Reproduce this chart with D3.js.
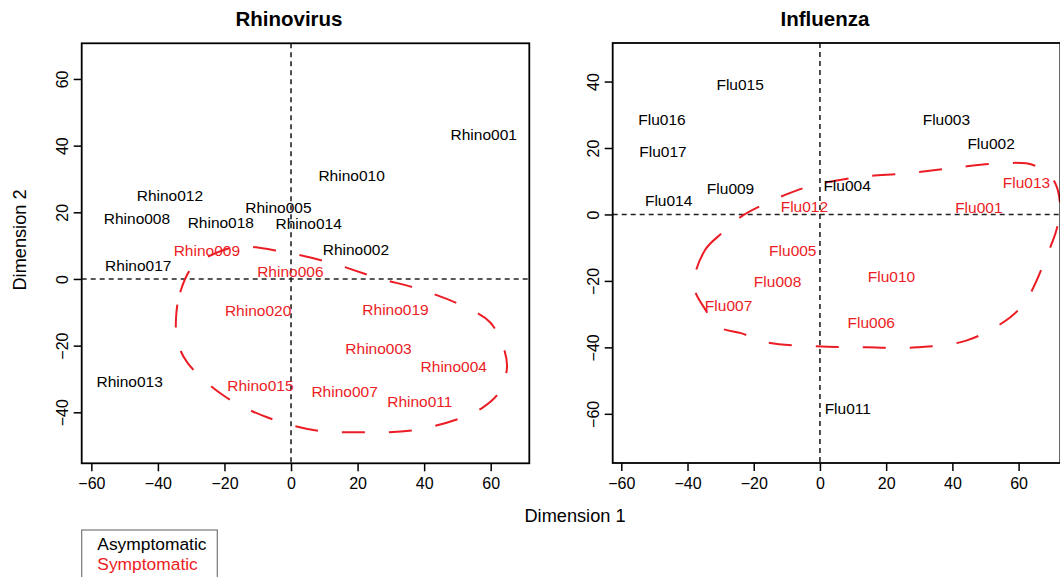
<!DOCTYPE html>
<html>
<head>
<meta charset="utf-8">
<script src="https://cdn.jsdelivr.net/npm/d3@7"></script>
<style>
  body { margin: 0; background: #fff; }
  svg { display: block; font-family: "Liberation Sans", Arial, sans-serif; }
</style>
</head>
<body>
<div id="chart"></div>
<script>
// ---- data ----
const rhinoNames = ["Rhino001","Rhino002","Rhino003","Rhino004","Rhino005","Rhino006","Rhino007","Rhino008","Rhino009","Rhino010",
                    "Rhino011","Rhino012","Rhino013","Rhino014","Rhino015","Rhino017","Rhino018","Rhino019","Rhino020"];
const rhinoDim1 = [57.9, 19.5, 26.3, 48.9, -3.8, -0.2, 16.1, -46.3, -25.3, 18.2,
                   38.7, -36.4, -48.5, 5.3, -9.2, -45.9, -21.1, 31.4, -9.9];
const rhinoDim2 = [43.3, 8.8, -20.7, -26.2, 21.5, 2.3, -33.7, 18.2, 8.7, 31.2,
                   -36.7, 25.0, -30.7, 16.6, -31.8, 4.0, 17.0, -9.2, -9.4];
const rhinoSymptomatic = [0, 0, 1, 1, 0, 1, 1, 0, 1, 0,
                          1, 0, 0, 0, 1, 0, 0, 1, 1];

const fluNames = ["Flu001","Flu002","Flu003","Flu004","Flu005","Flu006","Flu007","Flu008","Flu009",
                  "Flu010","Flu011","Flu012","Flu013","Flu014","Flu015","Flu016","Flu017"];
const fluDim1 = [48.0, 51.7, 38.2, 8.2, -8.2, 15.5, -27.6, -12.8, -27.0,
                 21.6, 8.4, -4.7, 62.4, -45.7, -24.1, -47.7, -47.4];
const fluDim2 = [2.0, 21.5, 28.6, 8.8, -10.8, -32.6, -27.3, -20.3, 7.8,
                 -18.6, -58.4, 2.5, 9.6, 4.1, 39.0, 28.5, 18.9];
const fluSymptomatic = [1, 0, 0, 0, 1, 1, 1, 1, 0,
                        1, 0, 1, 1, 0, 0, 0, 0];

// outline of the symptomatic group, in data units
const rhinoHull = [[-34.5,-10.9],[-33.3,-4.0],[-30.0,3.1],[-24.3,7.0],[-15.9,9.7],[-2.7,8.2],[11.7,4.9],[25.8,0.4],
                   [39.6,-3.4],[53.2,-8.8],[59.8,-13.0],[63.4,-19.3],[64.9,-26.5],[62.5,-34.0],[57.7,-38.5],
                   [50.8,-41.8],[36.6,-45.4],[21.6,-46.0],[7.2,-45.4],[-7.2,-41.5],[-20.4,-34.9],[-31.2,-25.0],[-34.2,-18.4]];
const fluHull = [[-38.1,-21.3],[-34.7,-10.7],[-29.6,-5.6],[-23.6,-0.5],[-17.5,2.8],[-10.0,6.1],[-3.0,8.5],[11.2,11.2],
                 [26.6,12.4],[41.7,14.2],[56.8,15.5],[64.4,14.9],[70.4,10.6],[72.5,3.4],[71.6,-4.1],[68.9,-11.5],
                 [62.8,-25.0],[57.4,-31.0],[44.4,-37.9],[29.3,-40.0],[14.2,-40.0],[-0.9,-39.7],[-16.0,-38.5],
                 [-23.6,-35.8],[-30.2,-34.0],[-34.7,-28.5]];

const xTicks = [-60, -40, -20, 0, 20, 40, 60];
const rhinoYTicks = [-40, -20, 0, 20, 40, 60];
const fluYTicks = [-60, -40, -20, 0, 20, 40];

const legendLabels = ["Asymptomatic", "Symptomatic"];
const groupColors = ["#000000", "#ec1c24"];

// ---- drawing ----
const width = 1060, height = 577;
const svg = d3.select("#chart").append("svg")
    .attr("width", width)
    .attr("height", height);

const drawPanel = (p) => {
    const x = d3.scaleLinear().domain(p.xDomain).range([p.left, p.right]);
    const y = d3.scaleLinear().domain(p.yDomain).range([p.bottom, p.top]);
    const g = svg.append("g");

    g.append("clipPath").attr("id", p.id + "-clip")
      .append("rect")
        .attr("x", p.left).attr("y", p.top)
        .attr("width", p.right - p.left).attr("height", p.bottom - p.top);

    const inner = g.append("g").attr("clip-path", `url(#${p.id}-clip)`);

    // reference lines at 0
    inner.append("line")
        .attr("x1", x(0)).attr("x2", x(0))
        .attr("y1", p.top).attr("y2", p.bottom)
        .attr("stroke", "#222").attr("stroke-width", 1.6).attr("stroke-dasharray", "5,4");
    inner.append("line")
        .attr("x1", p.left).attr("x2", p.right)
        .attr("y1", y(0)).attr("y2", y(0))
        .attr("stroke", "#222").attr("stroke-width", 1.6).attr("stroke-dasharray", "5,4");

    // group outline
    const outline = d3.line()
        .x(d => x(d[0])).y(d => y(d[1]))
        .curve(d3.curveCatmullRomClosed);
    inner.append("path")
        .attr("d", outline(p.hull))
        .attr("fill", "none")
        .attr("stroke", groupColors[1])
        .attr("stroke-width", 2)
        .attr("stroke-dasharray", "23,24");

    // labels
    inner.selectAll("text.lab")
      .data(p.names.map((n, i) => ({ n, x: p.d1[i], y: p.d2[i], s: p.sym[i] })))
      .join("text")
        .attr("class", "lab")
        .attr("x", d => x(d.x))
        .attr("y", d => y(d.y))
        .attr("dy", "0.36em")
        .attr("text-anchor", "middle")
        .attr("font-size", 15.5)
        .attr("fill", d => groupColors[d.s])
        .text(d => d.n);

    // axes
    const xAxis = g.append("g")
        .attr("transform", `translate(0,${p.bottom})`)
        .call(d3.axisBottom(x).tickValues(xTicks).tickSize(8).tickSizeOuter(0));
    xAxis.select(".domain").remove();
    xAxis.selectAll("line").attr("stroke", "#000").attr("stroke-width", 1.5);
    xAxis.selectAll("text")
        .attr("y", 25.7).attr("dy", null)
        .attr("font-size", 16).attr("fill", "#000")
        .attr("font-family", "Liberation Sans, Arial, sans-serif");

    const yAxis = g.append("g")
        .attr("transform", `translate(${p.left},0)`)
        .call(d3.axisLeft(y).tickValues(p.yTicks).tickSize(8).tickSizeOuter(0));
    yAxis.select(".domain").remove();
    yAxis.selectAll("line").attr("stroke", "#000").attr("stroke-width", 1.5);
    yAxis.selectAll("text")
        .attr("transform", "rotate(-90)")
        .attr("x", 0).attr("y", -13.7).attr("dy", null)
        .attr("text-anchor", "middle")
        .attr("font-size", 16).attr("fill", "#000")
        .attr("font-family", "Liberation Sans, Arial, sans-serif");

    // box
    g.append("rect")
        .attr("x", p.left).attr("y", p.top)
        .attr("width", p.right - p.left).attr("height", p.bottom - p.top)
        .attr("fill", "none").attr("stroke", "#000").attr("stroke-width", 1.8);

    // title
    g.append("text")
        .attr("x", p.titleX).attr("y", 25.7)
        .attr("text-anchor", "middle")
        .attr("font-size", 20.5).attr("font-weight", "bold")
        .text(p.title);
};

drawPanel({
    id: "rhino", title: "Rhinovirus", titleX: 289,
    left: 81.7, right: 529.3, top: 43.3, bottom: 463.3,
    xDomain: [-62.9, 71.6], yDomain: [-55.3, 70.7],
    yTicks: rhinoYTicks, hull: rhinoHull,
    names: rhinoNames, d1: rhinoDim1, d2: rhinoDim2, sym: rhinoSymptomatic
});

drawPanel({
    id: "flu", title: "Influenza", titleX: 825,
    left: 612.7, right: 1060.3, top: 43, bottom: 463,
    xDomain: [-62.6, 72.6], yDomain: [-74.8, 51.6],
    yTicks: fluYTicks, hull: fluHull,
    names: fluNames, d1: fluDim1, d2: fluDim2, sym: fluSymptomatic
});

// axis titles
svg.append("text")
    .attr("x", 575).attr("y", 521.7)
    .attr("text-anchor", "middle")
    .attr("font-size", 18.2)
    .text("Dimension 1");

svg.append("text")
    .attr("transform", "translate(25.8,240) rotate(-90)")
    .attr("text-anchor", "middle")
    .attr("font-size", 18.2)
    .text("Dimension 2");

// legend
const legend = svg.append("g");
legend.append("rect")
    .attr("x", 81.7).attr("y", 530)
    .attr("width", 135.6).attr("height", 60)
    .attr("fill", "none").attr("stroke", "#777").attr("stroke-width", 1.2);
legend.selectAll("text")
  .data(legendLabels)
  .join("text")
    .attr("x", 97.3)
    .attr("y", (d, i) => 550 + i * 20)
    .attr("font-size", 17.4)
    .attr("fill", (d, i) => groupColors[i])
    .text(d => d);
</script>
</body>
</html>
